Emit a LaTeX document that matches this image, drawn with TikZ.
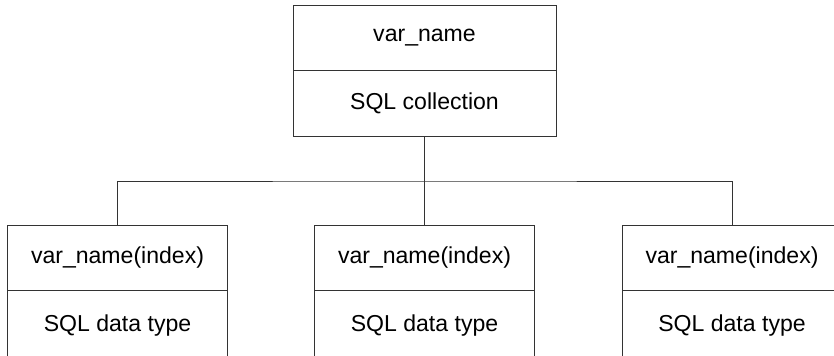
\documentclass[tikz,border=0pt]{standalone}
\usepackage{fontspec}
\setmainfont{Liberation Sans}
\usepackage{xcolor}
\usetikzlibrary{positioning}

\begin{document}
\begin{tikzpicture}
 \useasboundingbox (0,0) rectangle (20.85,-8.9);
 \clip (0,0) rectangle (20.85,-8.9);
 \begin{scope}[every node/.append style={rectangle, draw=black!80, line width=0.7pt, inner sep=0pt, outer sep=0pt, font=\fontsize{16.4}{19}\selectfont}]
    \node[minimum width=6.575cm, minimum height=1.64cm] (coll) at (10.6125,-0.945) {var\_name};
    \node[minimum width=6.575cm, minimum height=1.64cm, below=0pt of coll] (colltype) {SQL collection};

    \node[minimum width=5.5cm, minimum height=1.625cm] (elem1) at (2.9375,-6.4375) {var\_name(index)};
    \node[minimum width=5.5cm, minimum height=1.8cm, below=0pt of elem1] (type1) {SQL data type};

    \node[minimum width=5.5cm, minimum height=1.625cm] (elem2) at (10.6125,-6.4375) {var\_name(index)};
    \node[minimum width=5.5cm, minimum height=1.8cm, below=0pt of elem2] (type2) {SQL data type};

    \node[minimum width=5.5cm, minimum height=1.625cm] (elem3) at (18.3,-6.4375) {var\_name(index)};
    \node[minimum width=5.5cm, minimum height=1.8cm, below=0pt of elem3] (type3) {SQL data type};

    \coordinate (bar) at (10.6125,-4.525);
    \begin{scope}[every path/.style={draw=black!80, line width=0.7pt}]
       	\draw (colltype.south) -- (elem2.north);
       	\draw (elem1.north) |- (bar) -| (elem3.north);
    \end{scope}
 \end{scope}
\end{tikzpicture}
\end{document}
